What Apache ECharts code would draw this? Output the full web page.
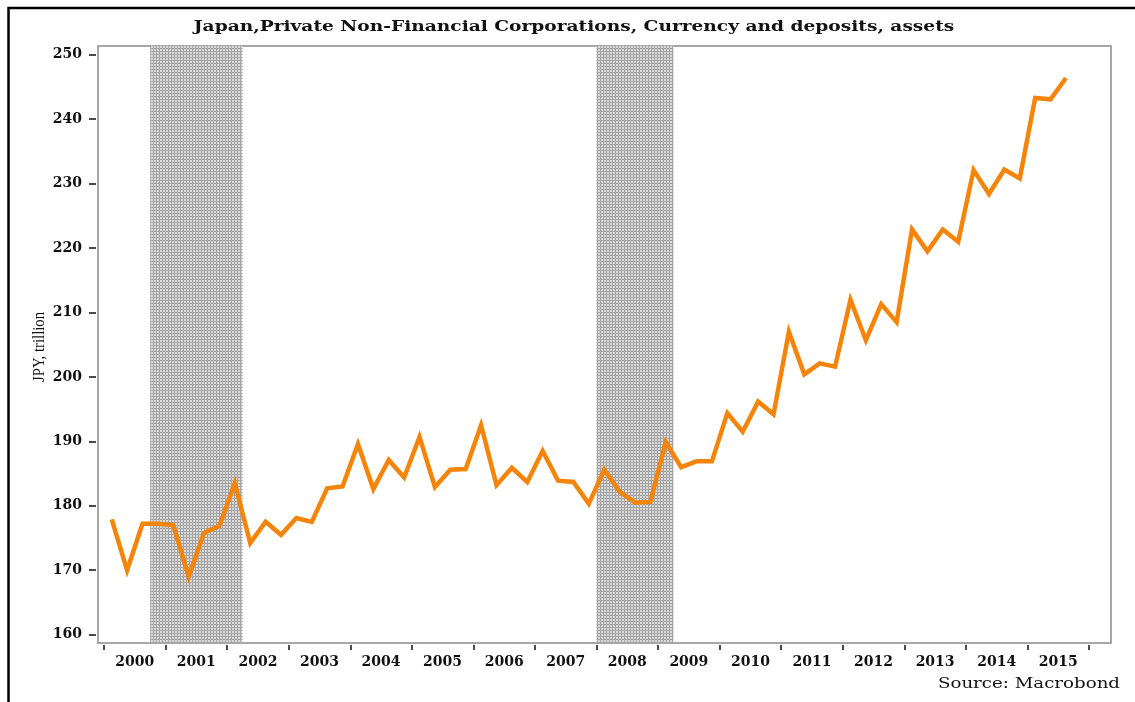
<!DOCTYPE html>
<html>
<head>
<meta charset="utf-8">
<title>Japan, Private Non-Financial Corporations, Currency and deposits</title>
<script src="https://cdn.jsdelivr.net/npm/echarts@6/dist/echarts.min.js"></script>
<style>
  html, body { margin: 0; padding: 0; background: #fff; }
  #chart { width: 1135px; height: 702px; }
</style>
</head>
<body>
<div id="chart"></div>
<script>
// quarterly data, 2000Q1 - 2015Q3 (JPY trillion)
var quarters = [
  '2000Q1','2000Q2','2000Q3','2000Q4','2001Q1','2001Q2','2001Q3','2001Q4',
  '2002Q1','2002Q2','2002Q3','2002Q4','2003Q1','2003Q2','2003Q3','2003Q4',
  '2004Q1','2004Q2','2004Q3','2004Q4','2005Q1','2005Q2','2005Q3','2005Q4',
  '2006Q1','2006Q2','2006Q3','2006Q4','2007Q1','2007Q2','2007Q3','2007Q4',
  '2008Q1','2008Q2','2008Q3','2008Q4','2009Q1','2009Q2','2009Q3','2009Q4',
  '2010Q1','2010Q2','2010Q3','2010Q4','2011Q1','2011Q2','2011Q3','2011Q4',
  '2012Q1','2012Q2','2012Q3','2012Q4','2013Q1','2013Q2','2013Q3','2013Q4',
  '2014Q1','2014Q2','2014Q3','2014Q4','2015Q1','2015Q2','2015Q3'
];
var deposits = [
  177.9, 170.0, 177.2, 177.2, 177.0, 169.0, 175.8, 176.9,
  183.5, 174.2, 177.5, 175.5, 178.1, 177.5, 182.7, 183.0,
  189.6, 182.6, 187.1, 184.4, 190.7, 182.9, 185.6, 185.7,
  192.5, 183.2, 185.9, 183.7, 188.5, 183.9, 183.7, 180.3,
  185.6, 182.2, 180.5, 180.6, 189.9, 186.0, 186.9, 186.9,
  194.4, 191.5, 196.2, 194.2, 207.0, 200.4, 202.1, 201.6,
  212.0, 205.7, 211.3, 208.5, 222.9, 219.5, 222.9, 221.0,
  232.1, 228.4, 232.2, 230.8, 243.3, 243.1, 246.4
];
// recession periods (decimal years)
var recessions = [[2000.75, 2002.25], [2008.0, 2009.25]];
var yearTicks = [2000,2001,2002,2003,2004,2005,2006,2007,2008,2009,2010,2011,2012,2013,2014,2015,2016];
var yTicks = [160,170,180,190,200,210,220,230,240,250];

// quarter label -> decimal year at middle of quarter
function qToYear(q) {
  var y = parseInt(q.substring(0, 4), 10);
  var n = parseInt(q.substring(5), 10);
  return y + (n - 0.5) / 4;
}
var seriesData = quarters.map(function (q, i) { return [qToYear(q), deposits[i]]; });
var yearLabelPos = yearTicks.slice(0, -1).map(function (y) { return y + 0.5; });

// fine grey cross-hatch for the recession bands
var hatch = document.createElement('canvas');
hatch.width = 3; hatch.height = 3;
var hctx = hatch.getContext('2d');
hctx.fillStyle = '#dadada';
hctx.fillRect(0, 0, 3, 3);
hctx.fillStyle = '#a4a4a4';
hctx.fillRect(0, 0, 3, 1);
hctx.fillRect(0, 0, 1, 3);

var chart = echarts.init(document.getElementById('chart'));
var serif = 'DejaVu Serif';
chart.setOption({
  animation: false,
  backgroundColor: '#fff',
  grid: {
    left: 98, right: 24, top: 46, bottom: 59,
    show: true,
    borderColor: '#8a8a8a',
    borderWidth: 1.5,
    backgroundColor: '#fff'
  },
  xAxis: {
    type: 'value',
    min: 1999.9025,
    max: 2016.357,
    offset: 2,
    axisLine: { show: false },
    splitLine: { show: false },
    axisTick: { show: true, length: 5, customValues: yearTicks, lineStyle: { color: '#111', width: 1.5 } },
    axisLabel: {
      customValues: yearLabelPos,
      margin: 10,
      fontFamily: serif, fontWeight: 'bold', fontSize: 14, color: '#111',
      formatter: function (v) { return String(Math.floor(v)); }
    }
  },
  yAxis: {
    type: 'value',
    min: 158.7,
    max: 251.37,
    offset: 2,
    axisLine: { show: false },
    splitLine: { show: false },
    axisTick: { show: true, length: 7, customValues: yTicks, lineStyle: { color: '#111', width: 1.5 } },
    axisLabel: {
      customValues: yTicks,
      margin: 14,
      fontFamily: serif, fontWeight: 'bold', fontSize: 14, color: '#111'
    }
  },
  series: [{
    type: 'line',
    data: seriesData,
    showSymbol: false,
    lineStyle: { color: '#f5850a', width: 4.5, join: 'miter' },
    itemStyle: { color: '#f5850a' },
    markArea: {
      silent: true,
      itemStyle: { color: { image: hatch, repeat: 'repeat' } },
      data: recessions.map(function (r) { return [{ xAxis: r[0] }, { xAxis: r[1] }]; })
    }
  }],
  graphic: [
    {
      type: 'polyline',
      shape: { points: [[8.5, 702], [8.5, 8], [1135, 8]] },
      style: { stroke: '#000', lineWidth: 2.5, fill: null }
    },
    {
      type: 'text',
      x: 574, y: 27,
      scaleX: 1.24,
      style: {
        text: 'Japan,Private Non-Financial Corporations, Currency and deposits, assets',
        x: 0, y: 0, align: 'center', verticalAlign: 'middle',
        fontFamily: serif, fontWeight: 'bold', fontSize: 15, fill: '#111'
      }
    },
    {
      type: 'text',
      x: 40, y: 347,
      rotation: Math.PI / 2,
      scaleX: 0.92,
      style: {
        text: 'JPY, trillion',
        x: 0, y: 0, align: 'center', verticalAlign: 'middle',
        fontFamily: 'Liberation Serif', fontSize: 16, fill: '#111'
      }
    },
    {
      type: 'text',
      x: 1120, y: 684,
      scaleX: 1.3,
      style: {
        text: 'Source: Macrobond',
        x: 0, y: 0, align: 'right', verticalAlign: 'middle',
        fontFamily: serif, fontSize: 14, fill: '#111'
      }
    }
  ]
});
</script>
</body>
</html>
